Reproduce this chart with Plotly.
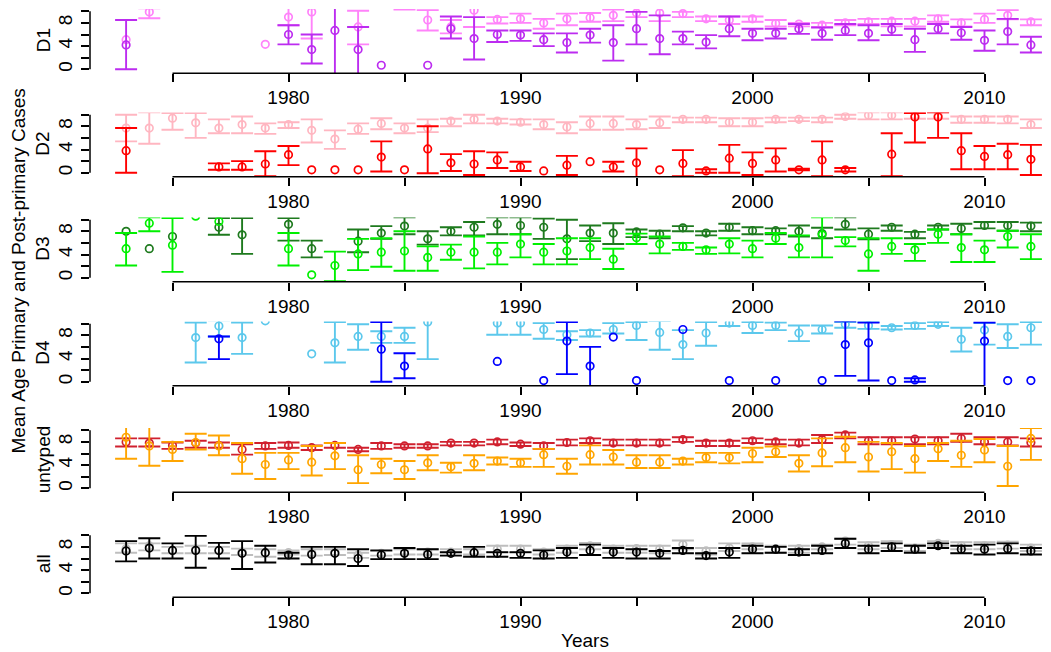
import plotly.graph_objects as go

years = list(range(1973, 2013))
N = None

# ---- D1 ----
d1_pri_mean = [4.2,N,N,N,N,N,N,6.0,3.4,6.7,3.4,0.7,N,0.7,7.0,5.3,6.0,5.9,5.1,4.6,5.9,4.6,7.0,5.3,5.3,4.7,7.0,6.2,6.2,7.0,6.2,6.7,6.2,6.9,5.1,7.0,6.3,5.0,6.5,4.2]
d1_pri_lo   = [0.0,N,N,N,N,N,N,4.3,1.0,-1,-1,N,N,N,5.3,1.7,4.7,4.9,4.0,2.9,4.6,1.5,4.3,2.6,4.3,3.6,5.7,5.0,5.3,6.1,5.1,5.9,5.0,5.9,3.0,6.2,5.1,3.2,4.3,2.9]
d1_pri_hi   = [8.5,N,N,N,N,N,N,7.6,6.0,12,7.3,N,N,N,9.1,9.0,6.7,6.7,6.2,6.2,7.0,7.6,9.9,9.3,6.5,5.9,9.1,7.0,7.0,7.8,7.2,7.8,7.6,7.8,7.0,7.8,7.3,6.7,8.7,5.6]
d1_post_mean = [5.1,9.9,N,N,N,N,4.3,9.0,9.9,N,7.3,N,12,8.5,7.3,10.2,8.6,8.7,8.0,8.7,8.9,9.3,9.7,9.7,9.6,8.7,8.5,8.7,7.9,7.8,7.6,8.0,8.2,8.3,8.3,8.7,8.0,8.6,9.3,8.2]
d1_post_lo   = [N,8.8,N,N,N,N,N,7.6,5.3,N,4.3,N,10.3,6.7,6.2,7.3,7.9,8.0,7.0,7.6,8.2,8.3,9.0,8.3,9.0,8.3,7.8,8.2,7.4,7.4,7.3,7.6,7.8,7.4,7.4,8.2,7.4,8.0,8.6,7.6]
d1_post_hi   = [N,10.5,N,N,N,N,N,10.6,14,N,10.1,N,14,10.2,8.5,11.5,9.0,9.6,8.7,9.6,9.7,10.3,10.6,10.6,9.9,9.1,9.1,9.1,8.5,8.0,8.0,8.5,8.7,8.7,8.7,9.3,8.6,9.6,10.2,8.6]

# ---- D2 ----
d2_pri_mean = [3.8,N,N,N,1.0,1.0,1.5,3.1,0.5,0.5,0.5,2.7,0.5,4.1,1.7,1.5,2.2,1.0,0.3,1.3,1.9,1.0,1.7,0.5,1.6,0.3,2.5,1.6,2.2,0.5,2.2,0.5,N,3.2,9.6,9.6,3.8,2.8,3.1,2.3]
d2_pri_lo   = [0.0,N,N,N,0.5,0.5,-0.6,1.3,N,N,N,0.2,N,-0.1,0.3,-0.4,0.8,0.3,N,-0.4,N,0.2,-1.0,N,-0.6,0.0,0.0,-0.4,0.2,0.4,-0.6,0.2,N,-0.6,5.2,6.0,0.6,0.6,0.6,-0.4]
d2_pri_hi   = [7.7,N,N,N,1.6,2.0,3.7,4.6,N,N,N,5.4,N,8.0,3.2,3.7,3.5,1.9,N,2.9,N,1.9,4.2,N,3.9,0.6,4.8,3.5,4.2,0.7,5.4,0.8,N,6.8,10.3,10.4,6.8,4.6,5.0,4.8]
d2_post_mean = [7.7,7.7,9.4,8.6,7.7,8.3,7.7,8.3,7.3,5.8,7.5,8.5,7.7,7.7,8.9,9.2,8.9,8.7,8.3,7.9,8.5,8.5,8.3,8.6,9.2,9.2,8.7,8.7,9.2,9.2,9.2,9.7,9.9,9.9,9.9,9.9,9.2,9.2,9.2,8.3]
d2_post_lo   = [5.4,5.0,7.4,6.0,6.8,6.8,6.7,7.7,5.2,4.1,6.7,7.5,6.8,7.0,8.0,8.5,8.5,8.3,7.5,6.8,7.4,7.4,7.5,7.7,8.7,8.7,8.0,8.0,8.7,8.9,8.7,9.3,9.2,9.2,9.3,9.3,8.6,8.6,8.5,7.7]
d2_post_hi   = [10.0,10.4,10.3,10.3,9.2,9.7,8.5,8.7,9.2,7.3,8.5,9.4,8.5,9.2,9.3,10.0,9.3,9.2,9.2,8.7,9.7,9.7,9.2,9.7,9.5,9.5,9.4,9.4,9.5,9.5,9.5,10.0,10.4,10.4,10.3,10.4,9.7,9.7,9.7,9.2]

# ---- D3 ----
d3_pri_mean = [5.0,9.4,5.6,10.6,9.7,N,N,5.0,0.5,2.1,4.1,4.4,4.6,3.5,4.4,4.4,4.4,5.8,4.4,4.6,5.2,3.2,6.9,5.8,5.4,4.8,5.8,5.0,6.8,5.2,7.4,6.4,4.1,5.4,4.8,7.5,5.2,4.8,7.1,5.4]
d3_pri_lo   = [2.1,8.0,1.0,N,N,N,N,2.1,N,-0.6,1.3,1.9,1.2,1.2,3.1,1.6,2.3,3.5,2.3,2.3,3.2,1.5,5.8,4.2,4.8,4.1,4.2,3.5,5.8,3.5,3.5,5.4,1.2,4.1,2.9,6.0,2.7,2.7,5.2,3.2]
d3_pri_hi   = [7.7,10.4,10.3,N,N,N,N,7.7,N,4.5,6.7,6.8,8.0,5.4,5.7,7.1,6.0,7.5,5.8,6.8,6.8,5.0,7.6,7.1,6.0,5.2,6.8,6.4,7.7,7.3,10.4,7.0,6.8,6.8,5.8,8.3,7.5,6.4,8.1,7.5]
d3_post_mean = [8.0,5.0,7.1,N,8.7,7.4,N,9.2,5.0,N,6.3,7.7,8.9,6.7,8.0,8.7,9.2,9.0,8.7,6.7,7.7,7.7,7.9,7.5,8.6,7.7,8.7,8.1,8.1,8.0,7.6,9.2,7.5,8.7,7.5,8.7,8.5,9.0,9.0,8.9]
d3_post_lo   = [N,N,N,N,7.4,4.1,N,6.4,3.5,N,4.4,6.7,7.5,5.7,7.3,7.3,7.5,7.5,6.7,3.2,6.3,5.8,7.0,6.8,8.0,7.3,8.1,7.5,7.5,7.1,6.8,8.3,6.6,8.1,6.8,8.3,7.5,8.5,8.1,8.0]
d3_post_hi   = [N,N,N,N,10.3,10.3,N,10.3,6.4,N,8.3,8.9,10.4,8.0,8.7,9.6,10.4,10.4,10.2,10.0,9.0,9.4,8.3,8.1,8.9,8.0,9.3,8.7,8.5,9.0,8.6,10.4,8.5,9.0,7.9,9.0,9.3,9.6,9.6,9.5]

# ---- D4 ----
d4_pri_mean = [N,N,N,N,7.4,N,N,N,N,N,N,5.6,2.7,N,N,N,3.5,N,0.2,7.0,2.7,7.7,0.2,N,9.0,N,0.2,N,0.2,N,0.2,6.4,6.7,0.2,0.3,N,N,7.0,0.2,0.2]
d4_pri_lo   = [N,N,N,N,3.9,N,N,N,N,N,N,0.0,0.6,N,N,N,N,N,N,1.3,-0.8,N,N,N,N,N,N,N,N,N,N,1.0,0.2,N,0.0,N,N,-2,N,N]
d4_pri_hi   = [N,N,N,N,7.8,N,N,N,N,N,N,10.3,4.9,N,N,N,N,N,N,10.3,6.0,N,N,N,N,N,N,N,N,N,N,10.4,10.2,N,0.6,N,N,10.2,N,N]
d4_post_mean = [N,N,N,7.6,9.6,7.6,10.5,N,4.8,6.7,7.8,7.8,7.8,10.3,N,N,10.1,10.1,9.0,8.1,8.4,9.0,9.7,8.5,6.4,8.4,10.1,9.7,9.7,8.4,9.0,9.9,9.7,9.3,9.7,9.9,7.3,8.9,7.8,9.3]
d4_post_lo   = [N,N,N,3.3,7.8,4.8,N,N,N,3.3,5.5,6.7,6.7,3.9,N,N,8.1,8.1,7.4,7.2,7.8,8.3,7.2,5.5,3.9,6.2,9.6,8.4,8.9,7.0,8.3,9.3,9.1,9.0,9.1,9.6,5.2,6.4,5.8,6.4]
d4_post_hi   = [N,N,N,10.2,10.6,10.2,N,N,N,10.3,9.9,8.7,9.3,12,N,N,11,11,10.1,8.7,8.9,10.1,10.3,10.5,8.9,10.3,11,10.3,10.2,9.7,9.7,10.3,10.3,9.6,10.1,10.3,9.3,10.1,9.9,10.3]

# ---- untyped ----
un_pri_mean = [8.8,7.3,6.7,7.9,7.3,5.1,4.1,4.9,4.5,5.6,3.2,4.1,3.2,4.4,3.7,4.3,4.7,4.4,5.8,3.8,5.8,5.4,4.5,4.5,4.7,5.3,5.3,6.0,6.3,4.3,6.1,7.0,5.4,6.3,5.1,6.8,5.7,6.6,3.8,8.6]
un_pri_lo   = [5.1,3.9,4.7,6.7,5.7,2.5,1.6,3.3,2.2,3.3,0.9,2.6,1.6,3.1,2.7,3.1,4.1,3.7,3.7,2.5,4.1,4.1,3.5,3.5,4.1,4.5,4.3,4.5,5.4,2.9,3.8,4.5,2.9,3.3,2.7,4.7,3.7,4.5,0.4,4.9]
un_pri_hi   = [10.7,10.7,8.0,9.4,9.1,7.8,6.1,6.1,7.3,7.8,5.7,5.1,4.7,5.7,4.4,5.7,5.3,5.1,6.8,5.1,7.4,6.6,5.7,5.7,5.1,6.1,6.1,7.0,7.2,5.7,8.6,8.9,8.0,7.8,7.3,7.8,8.2,8.5,7.3,10.4]
un_post_mean = [8.0,7.8,7.4,7.8,7.4,6.7,7.3,7.4,7.0,7.4,6.7,7.3,7.3,7.3,7.8,7.8,8.0,7.6,7.3,7.9,8.2,7.8,7.8,7.8,8.4,7.8,7.8,8.2,8.0,7.8,8.4,9.2,8.2,8.2,8.5,8.2,8.6,8.0,8.0,7.9]
un_post_lo   = [7.2,7.2,6.8,7.0,7.0,5.8,6.8,7.0,6.6,7.0,6.4,6.8,7.0,7.0,7.4,7.4,7.6,7.3,6.8,7.4,7.8,7.4,7.4,7.4,8.0,7.3,7.3,7.8,7.6,7.4,7.8,8.6,7.6,7.6,7.6,7.6,8.0,7.6,7.4,7.2]
un_post_hi   = [8.6,8.6,7.9,8.2,7.9,7.6,7.8,7.9,7.4,7.8,7.0,7.8,7.6,7.6,8.0,8.0,8.4,7.9,7.8,8.4,8.6,8.4,8.4,8.4,8.8,8.2,8.2,8.6,8.4,8.4,9.2,9.6,8.8,8.8,8.8,8.8,9.4,8.8,8.8,8.6]

# ---- all ----
al_pri_mean = [7.3,7.8,7.4,7.4,7.4,6.9,7.0,6.6,6.7,6.9,6.0,6.6,6.9,6.7,6.9,7.0,6.9,6.9,6.6,7.1,7.4,7.1,7.1,6.9,7.4,6.5,7.1,7.6,7.6,7.1,7.4,8.6,7.6,8.0,7.6,8.2,7.6,7.6,7.7,7.3]
al_pri_lo   = [5.5,6.0,6.0,4.4,6.0,4.2,5.3,6.0,5.0,5.0,4.7,5.9,5.9,5.9,6.5,6.3,6.3,6.1,6.0,6.1,6.6,6.1,6.0,6.0,6.9,6.0,6.1,6.9,7.0,6.6,6.9,7.8,6.9,7.3,7.0,7.8,6.9,6.7,6.9,6.7]
al_pri_hi   = [9.0,9.5,8.6,9.9,8.7,9.0,8.2,7.0,8.0,8.0,7.6,7.4,7.8,7.6,7.1,8.0,7.1,7.1,7.4,7.8,8.4,7.8,7.6,7.3,7.8,6.9,7.8,8.2,8.0,7.6,8.2,9.4,8.2,8.6,8.2,8.6,8.2,8.4,8.6,7.8]
al_post_mean = [7.7,8.2,7.4,7.6,7.4,7.1,6.9,7.0,7.0,7.1,6.6,6.9,7.1,7.1,7.1,7.1,7.6,7.6,7.1,7.6,8.2,7.6,7.7,7.6,8.4,7.3,7.8,8.0,7.6,7.7,8.0,9.0,8.2,8.4,7.8,8.6,8.2,8.2,8.3,7.8]
al_post_lo   = [7.0,7.4,6.9,6.9,6.9,6.6,6.3,6.7,6.5,6.6,6.1,6.5,6.7,6.7,6.9,6.7,7.0,7.0,6.7,7.0,7.6,7.0,7.0,6.9,7.6,6.7,7.3,7.6,7.0,7.0,7.6,8.4,7.6,7.8,7.3,8.2,7.6,7.6,7.7,7.3]
al_post_hi   = [8.6,8.6,8.0,8.2,8.0,7.7,7.6,7.4,7.6,7.6,7.0,7.3,7.6,7.6,7.6,7.6,8.2,8.2,7.6,8.2,8.7,8.2,8.2,8.2,9.1,7.8,8.6,8.6,8.2,8.2,8.4,9.4,8.8,9.0,8.4,9.0,8.8,8.8,8.9,8.4]

panel_names = ["D1", "D2", "D3", "D4", "untyped", "all"]
panel_data = [
    ((d1_post_mean, d1_post_lo, d1_post_hi), (d1_pri_mean, d1_pri_lo, d1_pri_hi)),
    ((d2_post_mean, d2_post_lo, d2_post_hi), (d2_pri_mean, d2_pri_lo, d2_pri_hi)),
    ((d3_post_mean, d3_post_lo, d3_post_hi), (d3_pri_mean, d3_pri_lo, d3_pri_hi)),
    ((d4_post_mean, d4_post_lo, d4_post_hi), (d4_pri_mean, d4_pri_lo, d4_pri_hi)),
    ((un_post_mean, un_post_lo, un_post_hi), (un_pri_mean, un_pri_lo, un_pri_hi)),
    ((al_post_mean, al_post_lo, al_post_hi), (al_pri_mean, al_pri_lo, al_pri_hi)),
]
panel_colors = [
    ("#FF83FA", "#BC2CF0"),
    ("#FFB6C1", "#FF0000"),
    ("#1E7A1E", "#00F000"),
    ("#5CC8EC", "#0000FF"),
    ("#D0202E", "#FFA500"),
    ("#BEBEBE", "#000000"),
]
x_ticks = [1975, 1980, 1985, 1990, 1995, 2000, 2005, 2010]
x_ticktext = ["", "1980", "", "1990", "", "2000", "", "2010"]
y_ticks = [0, 2, 4, 6, 8, 10]
y_ticktext = ["0", "", "4", "", "8", ""]

W, H = 1051, 652
FONT = "Liberation Sans, Arial, sans-serif"
PX_1980, PX_YR = 288.5, 23.2
LEFT_PX = 90
zero_px = [69.3, 172.7, 277.7, 381.7, 488.3, 593.3]
PU = 5.8
Y_LO, Y_HI = -0.7, 10.4

def year_at(px):
    return 1980 + (px - PX_1980) / PX_YR

fig = go.Figure()
layout = dict(width=W, height=H, margin=dict(l=0, r=0, t=0, b=0),
              paper_bgcolor="white", plot_bgcolor="white", showlegend=False,
              font=dict(family=FONT, size=19, color="black"))
shapes, annotations = [], []

for k in range(6):
    sfx = "" if k == 0 else str(k + 1)
    xa, ya = "x" + sfx, "y" + sfx
    z = zero_px[k]
    dom = [1 - (z - Y_LO * PU) / H, 1 - (z - Y_HI * PU) / H]
    layout["xaxis" + sfx] = dict(domain=[LEFT_PX / W, 1], range=[year_at(LEFT_PX), year_at(W)],
                                 anchor=ya, showline=False, showgrid=False, zeroline=False,
                                 ticks="outside", ticklen=8, tickwidth=1.5, tickcolor="black",
                                 tickvals=x_ticks, ticktext=x_ticktext, ticklabelstandoff=-1,
                                 tickfont=dict(size=19, family=FONT))
    layout["yaxis" + sfx] = dict(domain=dom, range=[Y_LO, Y_HI], anchor=xa,
                                 showline=False, showgrid=False, zeroline=False,
                                 ticks="outside", ticklen=8, tickwidth=1.5, tickcolor="black",
                                 tickvals=y_ticks, ticktext=y_ticktext, tickangle=-90,
                                 ticklabelstandoff=1, tickfont=dict(size=19, family=FONT))
    shapes.append(dict(type="line", xref=xa, yref=ya + " domain", x0=1975, x1=2010, y0=0, y1=0,
                       line=dict(color="black", width=1.5)))
    shapes.append(dict(type="line", xref=xa + " domain", yref=ya, x0=0, x1=0, y0=0, y1=10,
                       line=dict(color="black", width=1.5)))
    annotations.append(dict(text=panel_names[k], xref="paper", yref="paper", x=43 / W,
                            y=1 - (z - 5 * PU) / H, textangle=-90, showarrow=False,
                            xanchor="center", yanchor="middle", font=dict(size=19, family=FONT)))
    for (mean, lo, hi), col in zip(panel_data[k], panel_colors[k]):
        ex, ey, eu, ed = [], [], [], []
        px_, py_ = [], []
        for yr, m, l, h in zip(years, mean, lo, hi):
            if m is None:
                continue
            if l is None or h is None:
                px_.append(yr); py_.append(m)
            else:
                ex.append(yr); ey.append(m); eu.append(h - m); ed.append(m - l)
        mk = dict(symbol="circle-open", size=7.5, color=col, line=dict(width=1.7, color=col))
        if ex:
            fig.add_trace(go.Scatter(x=ex, y=ey, mode="markers", marker=mk, xaxis=xa, yaxis=ya,
                                     error_y=dict(type="data", symmetric=False, array=eu,
                                                  arrayminus=ed, width=11, thickness=1.9,
                                                  color=col)))
        if px_:
            fig.add_trace(go.Scatter(x=px_, y=py_, mode="markers", marker=mk, xaxis=xa, yaxis=ya))

annotations.append(dict(text="Mean Age Primary and Post-primary Cases", xref="paper", yref="paper",
                        x=18 / W, y=1 - 271.5 / H, textangle=-90, showarrow=False,
                        xanchor="center", yanchor="middle", font=dict(size=19, family=FONT)))
annotations.append(dict(text="Years", xref="paper", yref="paper", x=585 / W, y=1 - 640 / H,
                        showarrow=False, xanchor="center", yanchor="middle",
                        font=dict(size=19, family=FONT)))
layout["shapes"] = shapes
layout["annotations"] = annotations
fig.update_layout(**layout)
fig.write_html("out.html", config={"displayModeBar": False},
               post_script="document.body.style.margin='0';")
